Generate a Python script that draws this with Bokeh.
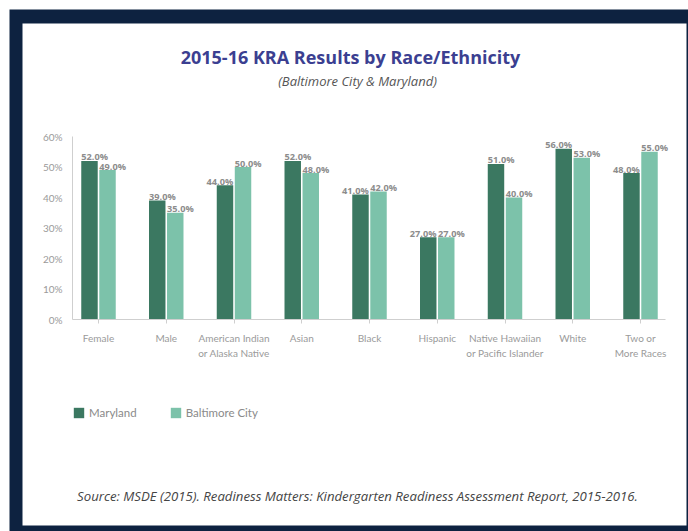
from bokeh.plotting import figure
from bokeh.models import (Range1d, LinearAxis, FixedTicker, PrintfTickFormatter,
                          ColumnDataSource, Legend, LegendItem, Label, BoxAnnotation)
from bokeh.transform import dodge
from bokeh.core.properties import value
from bokeh.embed import file_html
from bokeh.resources import INLINE

# ---------------- data ----------------
categories = ["Female", "Male", "American Indian\nor Alaska Native", "Asian", "Black",
              "Hispanic", "Native Hawaiian\nor Pacific Islander", "White", "Two or\nMore Races"]
maryland = [52, 39, 44, 52, 41, 27, 51, 56, 48]
baltimore = [49, 35, 50, 48, 42, 27, 40, 53, 55]
series_names = ["Maryland", "Baltimore City"]
y_ticks = [0, 10, 20, 30, 40, 50, 60]
title_text = "2015-16 KRA Results by Race/Ethnicity"
subtitle_text = "(Baltimore City & Maryland)"
source_text = "Source: MSDE (2015). Readiness Matters: Kindergarten Readiness Assessment Report, 2015-2016."

# ---------------- styles ----------------
NAVY = "#0d2240"
DARK = "#3b7861"
LIGHT = "#7cc2aa"
AXIS = "#cfcfcf"
FONT = "Lato"
WIDE = "Open Sans"
md_label_align = ["left", "left", "right", "left", "right", "right", "left", "right", "right"]

W, H = 688, 531
X0_PX, X_STEP = 98.0, 67.75      # px of first category centre, px per category
Y0_PX, Y_STEP = 319.0, 3.05      # px of 0 %, px per percent
OFF, BW = 0.133, 0.243

x_range = Range1d(-X0_PX / X_STEP, (W - X0_PX) / X_STEP)
y_range = Range1d(-(H - Y0_PX) / Y_STEP, Y0_PX / Y_STEP)

p = figure(width=W, height=H, x_range=x_range, y_range=y_range, title=None,
           x_axis_location=None, y_axis_location=None, toolbar_location=None,
           output_backend="svg", min_border=0)
p.outline_line_color = None
p.background_fill_color = "white"
p.border_fill_color = "white"
for g in p.grid:
    g.visible = False

# frame decoration (screen units)
p.add_layout(BoxAnnotation(left=9, right=W, bottom=0, top=H - 9,
                           left_units="screen", right_units="screen",
                           top_units="screen", bottom_units="screen",
                           fill_color=NAVY, fill_alpha=1, line_color=None, level="underlay"))
p.add_layout(BoxAnnotation(left=22, right=686, bottom=H - 525, top=H - 23,
                           left_units="screen", right_units="screen",
                           top_units="screen", bottom_units="screen",
                           fill_color="white", fill_alpha=1, line_color=None, level="underlay"))

idx = list(range(len(categories)))
src = ColumnDataSource(dict(x=idx, md=maryland, bc=baltimore))

r_md = p.vbar(x=dodge("x", -OFF, range=p.x_range), top="md", bottom=0, width=BW,
              source=src, fill_color=DARK, line_color=None)
r_bc = p.vbar(x=dodge("x", OFF, range=p.x_range), top="bc", bottom=0, width=BW,
              source=src, fill_color=LIGHT, line_color=None)

# value labels
md_lx = [i - OFF - BW / 2 if a == "left" else i - OFF + BW / 2 for i, a in zip(idx, md_label_align)]
bc_lx = [i + OFF - BW / 2 for i in idx]
lab_src = ColumnDataSource(dict(
    x=md_lx + bc_lx,
    y=maryland + baltimore,
    t=[f"{v:.1f}%" for v in maryland + baltimore],
    a=md_label_align + ["left"] * len(idx),
))
p.text(x="x", y="y", text="t", text_align="a", source=lab_src,
       text_baseline="alphabetic", y_offset=-4,
       text_font=value(WIDE), text_font_style="bold", text_font_size="9.2px",
       text_color="#8c8c8c")

# axes
xa = LinearAxis(fixed_location=0, ticker=FixedTicker(ticks=idx),
                major_label_overrides={i: c for i, c in enumerate(categories)},
                bounds=(-26 / X_STEP, 567 / X_STEP))
xa.axis_line_color = AXIS
xa.major_tick_line_color = AXIS
xa.major_tick_out = 4
xa.major_tick_in = 0
xa.minor_tick_line_color = None
xa.major_label_standoff = 8
xa.major_label_text_font = FONT
xa.major_label_text_font_size = "10px"
xa.major_label_text_color = "#9a9a9a"
xa.major_label_text_line_height = 1.25
p.add_layout(xa, "below")

ya = LinearAxis(fixed_location=-26 / X_STEP, ticker=FixedTicker(ticks=y_ticks),
                formatter=PrintfTickFormatter(format="%d%%"), bounds=(0, 60))
ya.axis_line_color = AXIS
ya.major_tick_line_color = None
ya.minor_tick_line_color = None
ya.major_tick_out = 0
ya.major_tick_in = 0
ya.major_label_standoff = 10
ya.major_label_text_font = FONT
ya.major_label_text_font_size = "10px"
ya.major_label_text_color = "#9a9a9a"
p.add_layout(ya, "left")

# legend
legend = Legend(items=[LegendItem(label=series_names[0], renderers=[r_md]),
                       LegendItem(label=series_names[1], renderers=[r_bc])],
                orientation="horizontal", location=(72, 112),
                glyph_width=13, glyph_height=13, label_standoff=4, spacing=32,
                padding=0, margin=0, border_line_color=None, background_fill_alpha=0,
                label_text_font=FONT, label_text_font_size="11.5px", label_text_color="#8a8a8a")
p.add_layout(legend)

# texts
p.add_layout(Label(x=350, y=H - 56, x_units="screen", y_units="screen", text=title_text,
                   text_align="center", text_baseline="middle", text_font=WIDE,
                   text_font_style="bold", text_font_size="18px", text_color="#3b3f91"))
p.add_layout(Label(x=357, y=H - 80, x_units="screen", y_units="screen", text=subtitle_text,
                   text_align="center", text_baseline="middle", text_font=WIDE,
                   text_font_style="italic", text_font_size="13px", text_color="#555555"))
p.add_layout(Label(x=357, y=H - 495, x_units="screen", y_units="screen", text=source_text,
                   text_align="center", text_baseline="middle", text_font=WIDE,
                   text_font_style="italic", text_font_size="13.2px", text_color="#444444"))

open("out.html", "w").write(file_html(p, INLINE))
